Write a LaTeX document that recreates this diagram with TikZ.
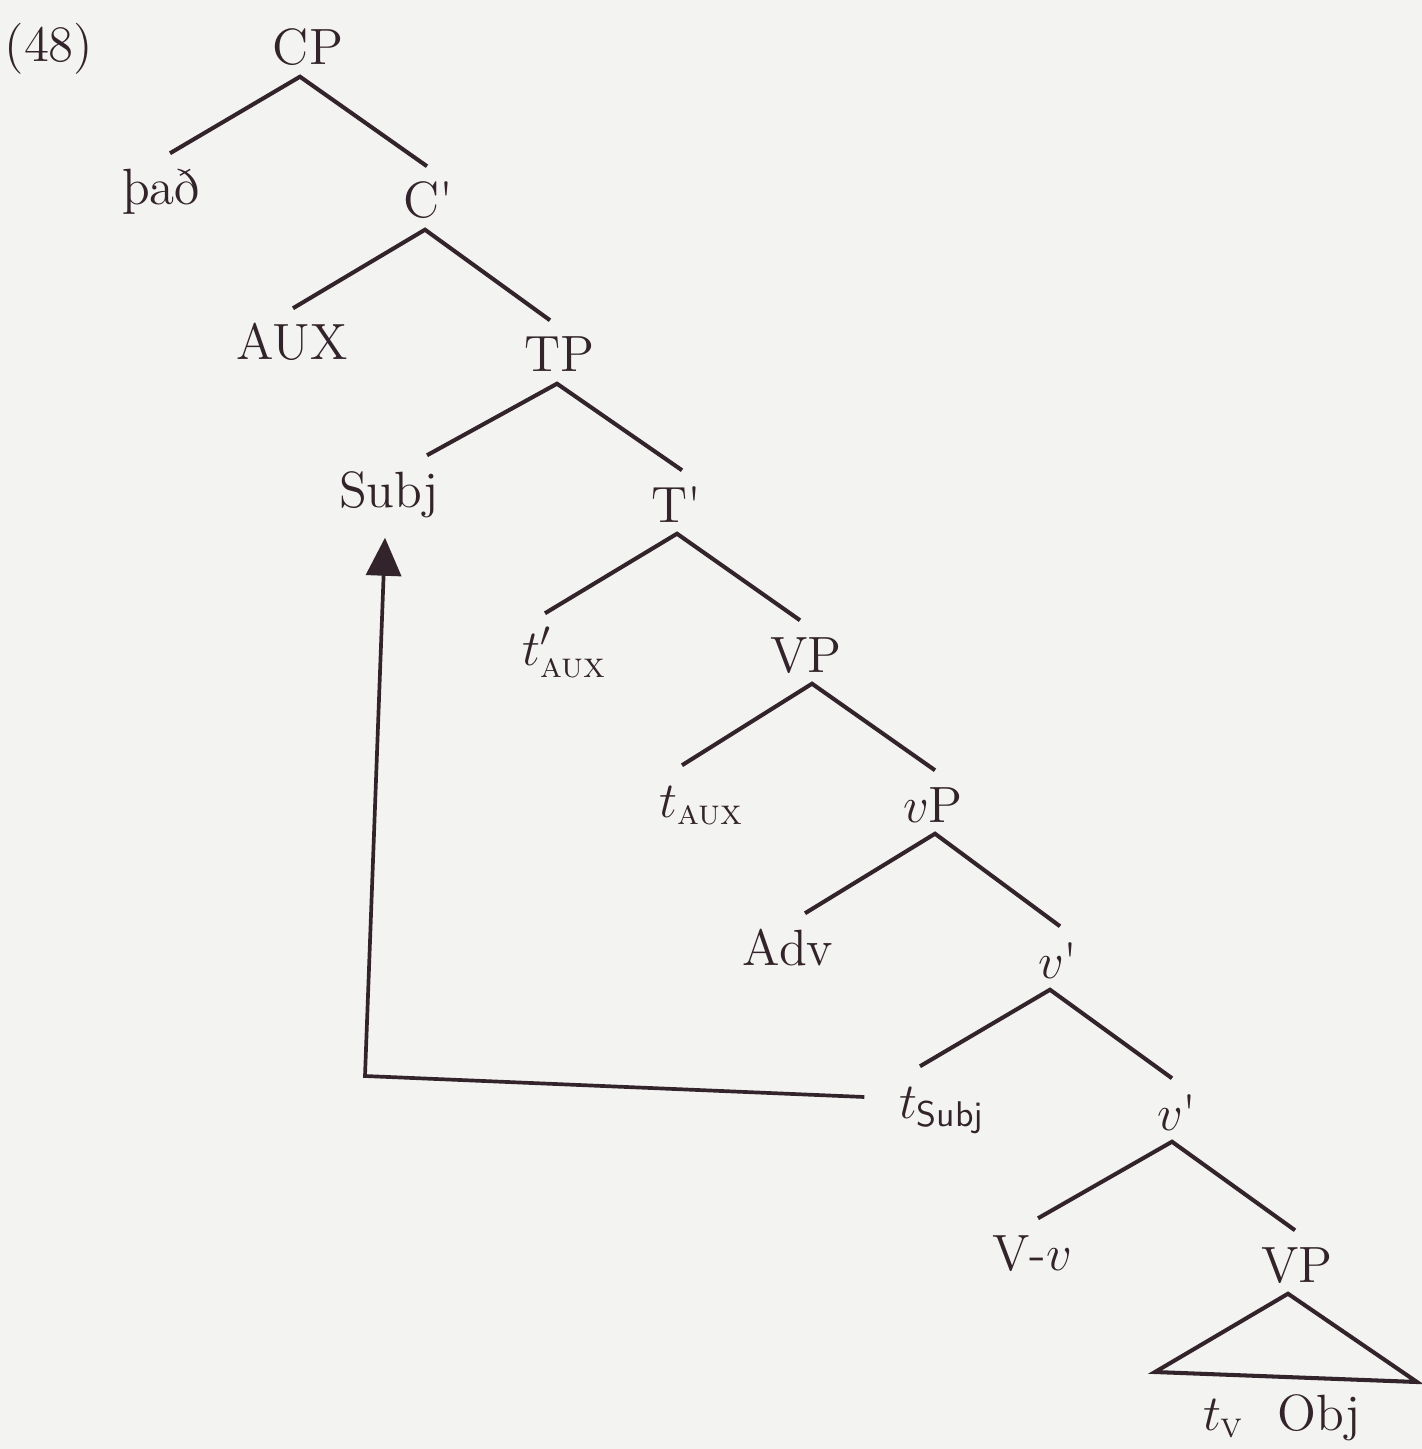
\documentclass[tikz,border=0pt]{standalone}
\usepackage{amsmath}
\usepackage{fontspec}
\usetikzlibrary{arrows.meta}
\definecolor{ink}{RGB}{50,36,42}
\definecolor{paper}{RGB}{243,243,242}
\tikzset{
  lbl/.style={anchor=base,text height=0.40cm,text depth=0pt,inner xsep=0pt,inner ysep=0.11cm,text=ink},
  branch/.style={draw=ink,line width=1.15pt},
  move/.style={draw=ink,line width=1.05pt,-{Triangle[width=0.35cm,length=0.38cm]}}
}
\begin{document}
\begin{tikzpicture}[x=0.01cm,y=-0.01cm,every node/.style={font=\fontsize{14.5}{17}\selectfont}]
\useasboundingbox (0,0) rectangle (1422,1449);
\fill[paper] (0,0) rectangle (1422,1449);
% tree labels, placed at their baselines
\node[lbl] (ex) at (49,62) {(48)};
\node[lbl] (CP) at (308,65) {CP};
\node[lbl] (pad) at (161,205) {það};
\node[lbl] (Cbar) at (428,218) {C\textquotesingle};
\node[lbl] (AUX) at (292,360) {AUX};
\node[lbl] (TP) at (559,372) {TP};
\node[lbl] (Subj) at (389,507) {Subj};
\node[lbl] (Tbar) at (676,522) {T\textquotesingle};
\node[lbl] (tAUXa) at (565,665) {$t'_{\text{\textsc{aux}}}$};
\node[lbl] (VPa) at (806,672) {VP};
\node[lbl] (tAUXb) at (702,817) {$t_{\text{\textsc{aux}}}$};
\node[lbl] (vP) at (933,822) {$v$P};
\node[lbl] (Adv) at (788,965) {Adv};
\node[lbl] (vbara) at (1058,978) {$v$\textquotesingle};
\node[lbl] (tSubj) at (942,1118) {$t_{\text{\sffamily Subj}}$};
\node[lbl] (vbarb) at (1177,1130) {$v$\textquotesingle};
\node[lbl] (Vv) at (1032,1270) {V-$v$};
\node[lbl] (VPb) at (1297,1282) {VP};
\node[lbl] (tvObj) at (1282,1430) {$t_{\text{\textsc{v}}}$\ \ Obj};
% branches
\draw[branch] ([xshift=0.09cm]pad.north) -- ([xshift=-0.08cm]CP.south) -- ([xshift=-0.01cm]Cbar.north);
\draw[branch] ([xshift=0.01cm]AUX.north) -- ([xshift=-0.03cm]Cbar.south) -- ([xshift=-0.09cm]TP.north);
\draw[branch] ([xshift=0.38cm]Subj.north) -- ([xshift=-0.02cm]TP.south) -- ([xshift=0.06cm]Tbar.north);
\draw[branch] ([xshift=-0.20cm]tAUXa.north) -- ([xshift=0.01cm]Tbar.south) -- ([xshift=-0.06cm]VPa.north);
\draw[branch] ([xshift=-0.20cm]tAUXb.north) -- ([xshift=0.06cm]VPa.south) -- ([xshift=0.02cm]vP.north);
\draw[branch] ([xshift=0.17cm]Adv.north) -- ([xshift=0.02cm]vP.south) -- ([xshift=0.02cm]vbara.north);
\draw[branch] ([xshift=-0.22cm]tSubj.north) -- ([xshift=-0.08cm]vbara.south) -- ([xshift=-0.05cm]vbarb.north);
\draw[branch] ([xshift=0.06cm]Vv.north) -- ([xshift=-0.05cm]vbarb.south) -- ([xshift=-0.02cm]VPb.north);
% triangle over t_V Obj
\coordinate (trileft) at (1155,1372);
\coordinate (triright) at (1417,1382);
\draw[branch] ([xshift=-0.09cm]VPb.south) -- (trileft) -- (triright) -- cycle;
% movement of the subject
\coordinate (mvbend) at (365,1076);
\draw[move] ([xshift=-0.34cm,yshift=0.21cm]tSubj.base west) -- (mvbend) -- ([xshift=-0.04cm,yshift=-0.19cm]Subj.south);
\end{tikzpicture}
\end{document}
